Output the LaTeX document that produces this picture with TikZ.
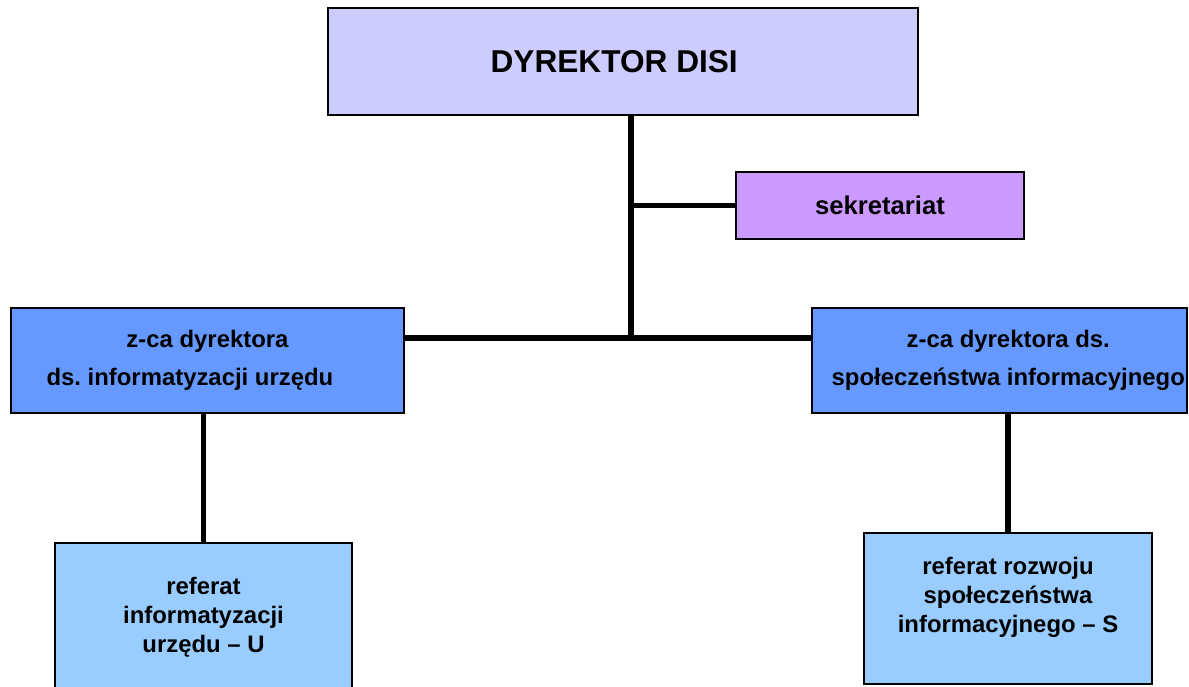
\documentclass[tikz,border=0pt]{standalone}
\usepackage{fontspec}
\setmainfont{Liberation Sans}
\frenchspacing
\usetikzlibrary{positioning}

\definecolor{dirfill}{HTML}{CCCCFF}
\definecolor{sekfill}{HTML}{CC99FF}
\definecolor{zcafill}{HTML}{6699FF}
\definecolor{reffill}{HTML}{99CCFF}

\begin{document}
\begin{tikzpicture}[x=0.02cm,y=-0.02cm,
  every node/.style={draw,line width=0.8pt,align=center,font=\bfseries,inner sep=0pt},
  boxdir/.style={fill=dirfill,minimum width=11.8cm,minimum height=2.14cm,font=\fontsize{18}{21}\bfseries},
  boxsek/.style={fill=sekfill,minimum width=5.76cm,minimum height=1.34cm,font=\fontsize{14.6}{17}\bfseries},
  boxzca/.style={fill=zcafill,minimum height=2.1cm,font=\fontsize{13.6}{21.5}\bfseries},
  boxref/.style={fill=reffill,font=\fontsize{13.6}{16.5}\bfseries},
  link/.style={line width=3.4pt}]
\useasboundingbox (0,0) rectangle (1189,686);
\node [boxdir] (Dyrektor) at (623,61.5) {DYREKTOR DISI\hspace*{10pt}};
\node [boxsek] (Sekretariat) at (880,205.5) {sekretariat};
\node [boxzca,minimum width=7.86cm] (ZcaU) at (207.5,360.5) {z-ca dyrektora\\ds. informatyzacji urzędu\hspace*{20pt}};
\node [boxzca,minimum width=7.5cm] (ZcaS) at (999.5,360.5) {\hspace*{10pt}z-ca dyrektora ds.\\\hspace*{10pt}społeczeństwa informacyjnego};
\node [boxref,minimum width=5.94cm,minimum height=3.14cm,text depth=0.25cm] (RefU) at (203.5,621.5) {referat\\informatyzacji\\urzędu – U};
\node [boxref,minimum width=5.76cm,minimum height=3.02cm,text depth=0.55cm] (RefS) at (1008,608.5) {referat rozwoju\\społeczeństwa\\informacyjnego – S};
\coordinate (Hub) at (631,338);
\draw [link] (Dyrektor.south -| Hub) -- (Hub);
\draw [link] (Hub |- Sekretariat.west) -- (Sekretariat.west);
\draw [link] (ZcaU.east |- Hub) -- (ZcaS.west |- Hub);
\draw [link] (ZcaU.south -| RefU.north) -- (RefU.north);
\draw [link] (ZcaS.south -| RefS.north) -- (RefS.north);
\end{tikzpicture}
\end{document}
